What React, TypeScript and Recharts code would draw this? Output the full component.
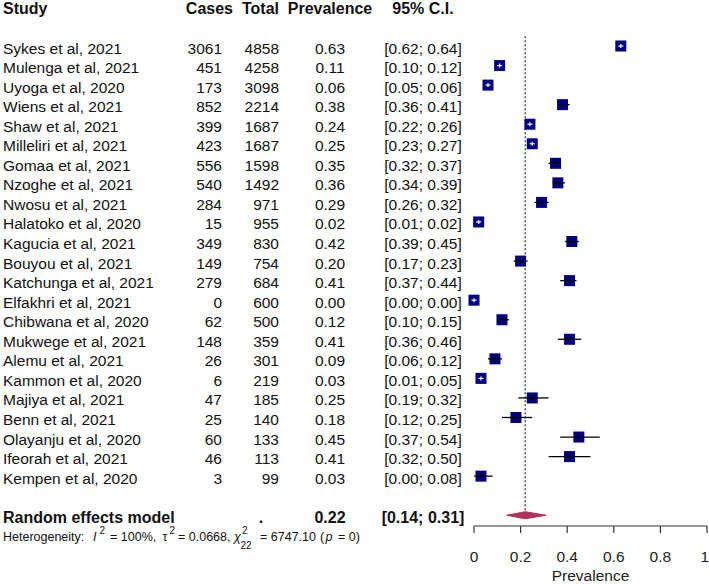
import React from 'react';
import { ComposedChart, Scatter, XAxis, YAxis, ReferenceLine } from 'recharts';

const studies = [
  'Sykes et al, 2021', 'Mulenga et al, 2021', 'Uyoga et al, 2020', 'Wiens et al, 2021',
  'Shaw et al, 2021', 'Milleliri et al, 2021', 'Gomaa et al, 2021', 'Nzoghe et al, 2021',
  'Nwosu et al, 2021', 'Halatoko et al, 2020', 'Kagucia et al, 2021', 'Bouyou et al, 2021',
  'Katchunga et al, 2021', 'Elfakhri et al, 2021', 'Chibwana et al, 2020', 'Mukwege et al, 2021',
  'Alemu et al, 2021', 'Kammon et al, 2020', 'Majiya et al, 2021', 'Benn et al, 2021',
  'Olayanju et al, 2020', 'Ifeorah et al, 2021', 'Kempen et al, 2020',
];
const cases = [3061, 451, 173, 852, 399, 423, 556, 540, 284, 15, 349, 149, 279, 0, 62, 148, 26, 6, 47, 25, 60, 46, 3];
const totals = [4858, 4258, 3098, 2214, 1687, 1687, 1598, 1492, 971, 955, 830, 754, 684, 600, 500, 359, 301, 219, 185, 140, 133, 113, 99];
const prevalence = [0.63, 0.11, 0.06, 0.38, 0.24, 0.25, 0.35, 0.36, 0.29, 0.02, 0.42, 0.20, 0.41, 0.00, 0.12, 0.41, 0.09, 0.03, 0.25, 0.18, 0.45, 0.41, 0.03];
const ciLower = [0.62, 0.10, 0.05, 0.36, 0.22, 0.23, 0.32, 0.34, 0.26, 0.01, 0.39, 0.17, 0.37, 0.00, 0.10, 0.36, 0.06, 0.01, 0.19, 0.12, 0.37, 0.32, 0.00];
const ciUpper = [0.64, 0.12, 0.06, 0.41, 0.26, 0.27, 0.37, 0.39, 0.32, 0.02, 0.45, 0.23, 0.44, 0.00, 0.15, 0.46, 0.12, 0.05, 0.32, 0.25, 0.54, 0.50, 0.08];

const pooledLabel = 'Random effects model';
const pooledEst = 0.22;
const pooledLower = 0.14;
const pooledUpper = 0.31;

const headerLabels = ['Study', 'Cases', 'Total', 'Prevalence', '95% C.I.'];
const xTicks = [0, 0.2, 0.4, 0.6, 0.8, 1];
const xTickLabels = ['0', '0.2', '0.4', '0.6', '0.8', '1'];
const xAxisTitle = 'Prevalence';

const FONT = '"Liberation Sans", Arial, Helvetica, sans-serif';
const NAVY = '#000080';
const DIAMOND = '#B3305C';
const TEXT = '#111';
const HEADER_ROW = -1;
const POOLED_ROW = 25;
const DIAMOND_HALF = 0.18;
const SQ = 11;
const CHART_W = 709;

const fmt = (v: number) => v.toFixed(2);

const rows = studies.map((s, i) => ({
  row: i + 1,
  x: prevalence[i],
  study: s,
  cases: cases[i],
  total: totals[i],
  prev: prevalence[i],
  lower: ciLower[i],
  upper: ciUpper[i],
  inside: ciUpper[i] - ciLower[i] < 0.045,
}));

const ciSegments = rows.map((r) => ({
  key: r.study,
  inside: r.inside,
  pts: [
    { x: r.lower, row: r.row },
    { x: r.upper, row: r.row },
  ],
}));

const diamondPts = [
  { x: pooledLower, row: POOLED_ROW },
  { x: pooledEst, row: POOLED_ROW - DIAMOND_HALF },
  { x: pooledUpper, row: POOLED_ROW },
  { x: pooledEst, row: POOLED_ROW + DIAMOND_HALF },
  { x: pooledLower, row: POOLED_ROW },
];

const Square = (p: any) => {
  const { cx, cy, payload } = p;
  if (cx == null || cy == null) return <g />;
  const c = payload.inside ? '#fff' : '#000';
  return (
    <g>
      <rect x={cx - SQ / 2} y={cy - SQ / 2} width={SQ} height={SQ} fill={NAVY} />
      <line x1={cx} x2={cx} y1={cy - 2} y2={cy + 2} stroke={c} strokeWidth={1.2} />
      {payload.inside ? (
        <line x1={cx - 2.5} x2={cx + 2.5} y1={cy} y2={cy} stroke="#fff" strokeWidth={1.2} />
      ) : null}
    </g>
  );
};

const Empty = () => <g />;

const renderXTick = (p: any) => {
  const { x, y, payload } = p;
  const label = xTickLabels[xTicks.indexOf(payload.value)] ?? String(payload.value);
  const half = (label.length * 8.6) / 2;
  const cx = Math.min(x, CHART_W - half);
  return (
    <text x={cx} y={y + 11} textAnchor="middle" fill="#222" fontSize={15.5} fontFamily={FONT}>
      {label}
    </text>
  );
};

const renderRowLabel = (p: any) => {
  const v = p.payload.value;
  const y = p.y;
  const t = { fontFamily: FONT, fontSize: 15.5, fill: TEXT } as any;
  const b = { fontFamily: FONT, fontSize: 16, fill: TEXT, fontWeight: 'bold' } as any;
  if (v === HEADER_ROW) {
    return (
      <g>
        <text {...b} x={3} y={y + 7.5} textAnchor="start">{headerLabels[0]}</text>
        <text {...b} x={233} y={y + 7.5} textAnchor="end">{headerLabels[1]}</text>
        <text {...b} x={279} y={y + 7.5} textAnchor="end">{headerLabels[2]}</text>
        <text {...b} x={330} y={y + 7.5} textAnchor="middle">{headerLabels[3]}</text>
        <text {...b} x={423} y={y + 7.5} textAnchor="middle">{headerLabels[4]}</text>
      </g>
    );
  }
  if (v === POOLED_ROW) {
    const h = { fontFamily: FONT, fontSize: 12.5, fill: TEXT } as any;
    const hb = y + 25.5;
    return (
      <g>
        <text {...b} x={3} y={y + 7.5} textAnchor="start">{pooledLabel}</text>
        <text {...b} x={261} y={y + 7.5} textAnchor="middle">.</text>
        <text {...b} x={330} y={y + 7.5} textAnchor="middle">{fmt(pooledEst)}</text>
        <text {...b} x={423} y={y + 7.5} textAnchor="middle">{`[${fmt(pooledLower)}; ${fmt(pooledUpper)}]`}</text>
        <text {...h} y={hb} textAnchor="start">
          <tspan x={3}>Heterogeneity:</tspan>
          <tspan x={93} fontStyle="italic">I</tspan>
        </text>
        <text {...h} fontSize={10} x={99.5} y={hb - 7}>2</text>
        <text {...h} x={110} y={hb}>= 100%,</text>
        <text {...h} x={162.5} y={hb}>τ</text>
        <text {...h} fontSize={10} x={169.5} y={hb - 7}>2</text>
        <text {...h} x={178} y={hb}>= 0.0668,</text>
        <text {...h} x={234} y={hb} fontStyle="italic">χ</text>
        <text {...h} fontSize={10} x={242} y={hb - 7}>2</text>
        <text {...h} fontSize={10} x={240.5} y={hb + 8.5}>22</text>
        <text {...h} x={260} y={hb}>= 6747.10</text>
        <text {...h} x={320} y={hb}>(</text>
        <text {...h} x={325.5} y={hb} fontStyle="italic">p</text>
        <text {...h} x={338} y={hb}>= 0)</text>
      </g>
    );
  }
  const r = rows[v - 1];
  if (!r) return <g />;
  return (
    <g>
      <text {...t} x={3} y={y + 7.5} textAnchor="start">{r.study}</text>
      <text {...t} x={222} y={y + 7.5} textAnchor="end">{r.cases}</text>
      <text {...t} x={279} y={y + 7.5} textAnchor="end">{r.total}</text>
      <text {...t} x={330} y={y + 7.5} textAnchor="middle">{fmt(r.prev)}</text>
      <text {...t} x={423} y={y + 7.5} textAnchor="middle">{`[${fmt(r.lower)}; ${fmt(r.upper)}]`}</text>
    </g>
  );
};

const yTicks = [HEADER_ROW, ...rows.map((r) => r.row), POOLED_ROW];

export default function App() {
  return (
    <div style={{ position: 'absolute', left: 0, top: 0, width: 709, height: 584, background: '#fff' }}>
      <ComposedChart
        width={CHART_W}
        height={584}
        margin={{ top: 0, right: 2, bottom: 0, left: 473 }}
        style={{ fontFamily: FONT }}
      >
        <XAxis
          type="number"
          dataKey="x"
          domain={[0, 1]}
          ticks={xTicks}
          interval={0}
          height={58}
          tickSize={7}
          tickMargin={17.5}
          axisLine={{ stroke: '#333', strokeWidth: 1.2 }}
          tickLine={{ stroke: '#333', strokeWidth: 1.2 }}
          tick={renderXTick}
          label={{ value: xAxisTitle, position: 'insideBottom', offset: 3, fill: '#222', fontSize: 15.5, fontFamily: FONT }}
        />
        <YAxis
          type="number"
          dataKey="row"
          domain={[-1.353, 25.55]}
          reversed
          width={1}
          ticks={yTicks}
          interval={0}
          axisLine={false}
          tickLine={false}
          tick={renderRowLabel}
        />
        <ReferenceLine
          segment={[{ x: pooledEst, y: 0.5 }, { x: pooledEst, y: POOLED_ROW - DIAMOND_HALF }]}
          stroke="#555"
          strokeWidth={1.5}
          strokeDasharray="2 2"
        />
        <Scatter
          data={diamondPts}
          isAnimationActive={false}
          shape={Empty}
          line={{ stroke: DIAMOND, fill: DIAMOND, strokeWidth: 1 }}
          lineType="joint"
        />
        <Scatter data={rows} isAnimationActive={false} shape={Square} />
        {ciSegments
          .filter((s) => !s.inside)
          .map((s) => (
            <Scatter
              key={s.key}
              data={s.pts}
              isAnimationActive={false}
              shape={Empty}
              line={{ stroke: '#000', strokeWidth: 1.3 }}
              lineType="joint"
            />
          ))}
      </ComposedChart>
    </div>
  );
}
